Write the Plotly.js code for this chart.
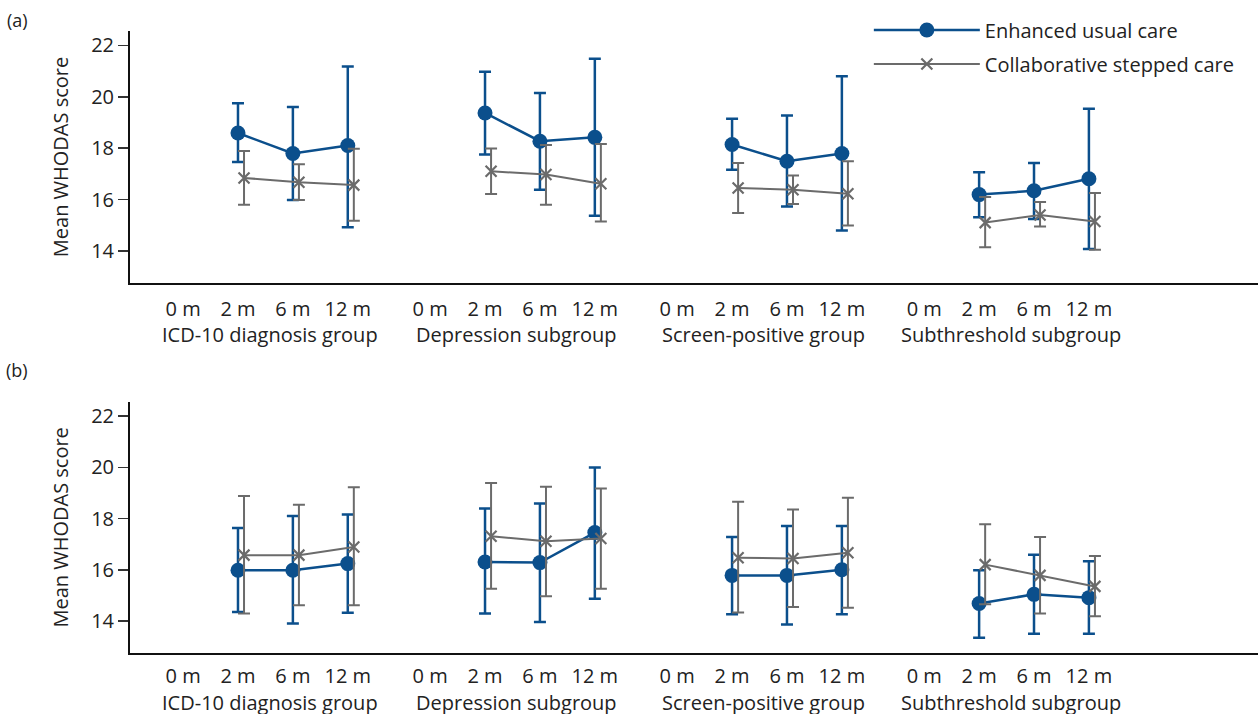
<!DOCTYPE html>
<html>
<head>
<meta charset="utf-8">
<script src="https://cdn.plot.ly/plotly-3.0.1.min.js"></script>
<style>html,body{margin:0;padding:0;background:#fff;}#chart{width:1260px;height:714px;}</style>
</head>
<body>
<div id="chart"></div>
<script>
// ---- data ----
const groups = ['ICD-10 diagnosis group', 'Depression subgroup', 'Screen-positive group', 'Subthreshold subgroup'];
const timeLabels = ['0 m', '2 m', '6 m', '12 m'];
const observedTimeIndex = [1, 2, 3]; // 2 m, 6 m, 12 m
const seriesNames = ['Enhanced usual care', 'Collaborative stepped care'];

// Panel (a)
const aEucMean = [18.59, 17.79, 18.10, 19.37, 18.27, 18.42, 18.14, 17.49, 17.79, 16.19, 16.34, 16.81];
const aEucHigh = [19.75, 19.60, 21.18, 20.97, 20.15, 21.48, 19.14, 19.27, 20.80, 17.06, 17.42, 19.53];
const aEucLow  = [17.46, 15.98, 14.92, 17.75, 16.38, 15.37, 17.16, 15.73, 14.79, 15.31, 15.24, 14.07];
const aCscMean = [16.84, 16.67, 16.56, 17.10, 16.97, 16.61, 16.45, 16.38, 16.22, 15.10, 15.40, 15.14];
const aCscHigh = [17.89, 17.37, 17.98, 17.99, 18.12, 18.16, 17.42, 16.93, 17.49, 16.10, 15.90, 16.25];
const aCscLow  = [15.80, 15.98, 15.17, 16.21, 15.80, 15.14, 15.47, 15.82, 14.99, 14.14, 14.95, 14.04];

// Panel (b)
const bEucMean = [15.98, 15.98, 16.24, 16.30, 16.28, 17.45, 15.78, 15.78, 16.00, 14.68, 15.04, 14.91];
const bEucHigh = [17.63, 18.10, 18.16, 18.39, 18.59, 19.99, 17.28, 17.71, 17.71, 15.98, 16.59, 16.33];
const bEucLow  = [14.35, 13.90, 14.32, 14.29, 13.96, 14.87, 14.26, 13.86, 14.26, 13.35, 13.50, 13.50];
const bCscMean = [16.57, 16.57, 16.89, 17.31, 17.11, 17.22, 16.47, 16.44, 16.66, 16.20, 15.78, 15.35];
const bCscHigh = [18.88, 18.54, 19.22, 19.39, 19.24, 19.17, 18.65, 18.35, 18.81, 17.78, 17.28, 16.54];
const bCscLow  = [14.29, 14.61, 14.61, 15.26, 14.97, 15.26, 14.33, 14.55, 14.52, 14.65, 14.29, 14.18];

// ---- layout helpers ----
const GROUP_STEP = 4.5;
const CSC_SHIFT = 0.11;
const BLUE = '#0b4f8c';
const GREY = '#6b6b6b';
const FONT = '"Open Sans", Lato, sans-serif';
const FS = 20;

function buildXY(mean, hi, lo, shift) {
  const x = [], y = [], up = [], down = [];
  groups.forEach((g, gi) => {
    observedTimeIndex.forEach((t, ti) => {
      const k = gi * observedTimeIndex.length + ti;
      x.push(gi * GROUP_STEP + t + shift);
      y.push(mean[k]);
      up.push(hi[k] - mean[k]);
      down.push(mean[k] - lo[k]);
    });
    x.push(null); y.push(null); up.push(null); down.push(null);
  });
  return {x, y, up, down};
}

function seriesTrace(mean, hi, lo, kind, axis, showlegend) {
  const isEuc = kind === 0;
  const d = buildXY(mean, hi, lo, isEuc ? 0 : CSC_SHIFT);
  const col = isEuc ? BLUE : GREY;
  return {
    type: 'scatter', mode: 'lines+markers',
    x: d.x, y: d.y, xaxis: axis[0], yaxis: axis[1],
    name: seriesNames[kind], legendgroup: isEuc ? 'euc' : 'csc', showlegend: showlegend,
    connectgaps: false,
    line: {color: col, width: isEuc ? 2.5 : 2},
    marker: isEuc ? {symbol: 'circle', size: 15, color: col}
                  : {symbol: 'x-thin', size: 11, color: col, line: {color: col, width: 2.2}},
    error_y: {type: 'data', symmetric: false, array: d.up, arrayminus: d.down,
              color: col, thickness: isEuc ? 2.5 : 2, width: 6},
    hoverinfo: 'skip'
  };
}

const tickVals = [], tickText = [];
groups.forEach((g, gi) => timeLabels.forEach((t, ti) => { tickVals.push(gi * GROUP_STEP + ti); tickText.push(t); }));

const data = [
  seriesTrace(aEucMean, aEucHigh, aEucLow, 0, ['x', 'y'], true),
  seriesTrace(aCscMean, aCscHigh, aCscLow, 1, ['x', 'y'], true),
  seriesTrace(bEucMean, bEucHigh, bEucLow, 0, ['x2', 'y2'], false),
  seriesTrace(bCscMean, bCscHigh, bCscLow, 1, ['x2', 'y2'], false)
];

function xAxis(anchor, tl) {
  return {
    anchor: anchor, domain: [0, 1], range: [-0.967, 19.58],
    showline: true, linecolor: '#111', linewidth: 2, zeroline: false, showgrid: false,
    tickmode: 'array', tickvals: tickVals, ticktext: tickText, tickangle: 0,
    ticks: 'outside', ticklen: tl, tickcolor: 'rgba(0,0,0,0)',
    tickfont: {family: FONT, size: FS, color: '#222'}
  };
}
function yAxis(anchor, domain) {
  return {
    anchor: anchor, domain: domain, range: [12.75, 22.56],
    showline: true, linecolor: '#111', linewidth: 2, zeroline: false, showgrid: false,
    tickmode: 'array', tickvals: [14, 16, 18, 20, 22],
    ticks: 'outside', ticklen: 10, tickwidth: 1.5, tickcolor: '#333',
    tickfont: {family: FONT, size: FS, color: '#222'},
    title: {text: 'Mean WHODAS score', font: {family: FONT, size: FS, color: '#222'}, standoff: 17}
  };
}

const annotations = [];
[['x', 'y', -52], ['x2', 'y2', -49]].forEach(ax => {
  groups.forEach((g, gi) => {
    annotations.push({
      text: g, showarrow: false, xref: ax[0], yref: ax[1] + ' domain',
      x: gi * GROUP_STEP + 1.58, y: 0, yanchor: 'middle', xanchor: 'center', yshift: ax[2],
      font: {family: FONT, size: FS, color: '#222'}
    });
  });
});
annotations.push({text: '(a)', showarrow: false, xref: 'paper', yref: 'paper', x: -0.1, y: 1, yshift: 11,
  xanchor: 'center', yanchor: 'middle', font: {family: FONT, size: 18, color: '#222'}});
annotations.push({text: '(b)', showarrow: false, xref: 'paper', yref: 'y2 domain', x: -0.1, y: 1, yshift: 32,
  xanchor: 'center', yanchor: 'middle', font: {family: FONT, size: 18, color: '#222'}});

const layout = {
  width: 1260, height: 714,
  margin: {l: 130, r: 2, t: 31, b: 61},
  paper_bgcolor: '#fff', plot_bgcolor: '#fff',
  font: {family: FONT, size: FS, color: '#222'},
  showlegend: true,
  legend: {
    xref: 'paper', yref: 'paper', x: 0.655, y: 1.033, xanchor: 'left', yanchor: 'top',
    bgcolor: 'rgba(255,255,255,0)', itemwidth: 106, tracegroupgap: 5,
    font: {family: FONT, size: FS, color: '#222'}, itemclick: false, itemdoubleclick: false
  },
  xaxis: xAxis('y', 7), yaxis: yAxis('x', [0.5949, 1]),
  xaxis2: xAxis('y2', 4), yaxis2: yAxis('x2', [0, 0.404]),
  annotations: annotations
};

Plotly.newPlot('chart', data, layout, {displayModeBar: false, staticPlot: true});
</script>
</body>
</html>
